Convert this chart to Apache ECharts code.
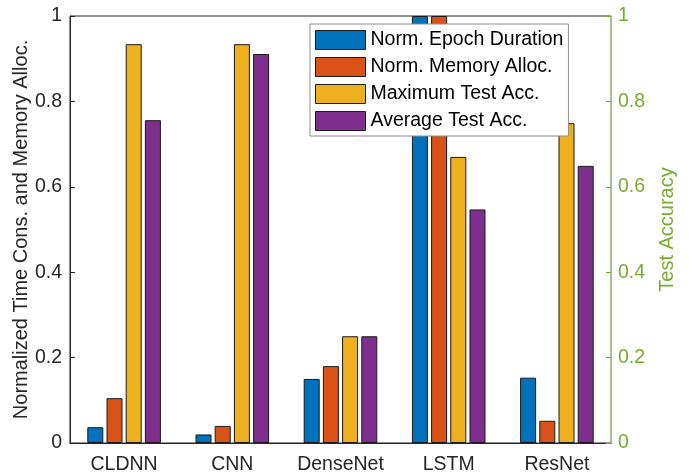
<!DOCTYPE html>
<html>
<head>
<meta charset="utf-8">
<script src="https://cdn.jsdelivr.net/npm/echarts@6/dist/echarts.min.js"></script>
<style>
  html, body { margin: 0; padding: 0; background: #fff; }
  #chart { width: 689px; height: 473px; }
</style>
</head>
<body>
<div id="chart"></div>
<script>
// data
var categories = ['CLDNN', 'CNN', 'DenseNet', 'LSTM', 'ResNet'];
var seriesNames = ['Norm. Epoch Duration', 'Norm. Memory Alloc.', 'Maximum Test Acc.', 'Average Test Acc.'];
var epochDuration = [0.037, 0.020, 0.150, 1.0, 0.153];
var memoryAlloc = [0.105, 0.040, 0.180, 1.0, 0.052];
var maxTestAcc = [0.934, 0.934, 0.250, 0.670, 0.749];
var avgTestAcc = [0.756, 0.911, 0.250, 0.547, 0.649];

var colors = ['#0072BD', '#D95319', '#EDB120', '#7E2F8E'];
var green = '#77AC30';
var font = 'Liberation Sans, Arial, sans-serif';

var chart = echarts.init(document.getElementById('chart'));

function bar(i, data, yIdx) {
  return {
    name: seriesNames[i],
    type: 'bar',
    yAxisIndex: yIdx,
    data: data,
    barWidth: 16,
    barGap: '20%',
    itemStyle: { color: colors[i], borderColor: '#1a1a1a', borderWidth: 1 },
    emphasis: { disabled: true }
  };
}

chart.setOption({
  animation: false,
  textStyle: { fontFamily: font },
  grid: {
    left: 70, right: 78, top: 16, bottom: 30,
    containLabel: false, outerBoundsMode: 'none',
    show: true, borderColor: '#262626', borderWidth: 1, backgroundColor: '#fff'
  },
  legend: {
    orient: 'vertical',
    left: 310, top: 24,
    padding: [6, 5, 5, 5],
    itemWidth: 50, itemHeight: 19, itemGap: 7,
    backgroundColor: '#fff',
    borderColor: '#8c8c8c', borderWidth: 1,
    borderRadius: 0,
    icon: 'rect',
    itemStyle: { borderWidth: 1, borderColor: '#1a1a1a' },
    textStyle: { fontSize: 19.5, lineHeight: 19, color: '#000', fontFamily: font },
    data: seriesNames
  },
  xAxis: [{
    type: 'category',
    data: categories,
    axisLine: { lineStyle: { color: '#262626' } },
    axisTick: { inside: true, alignWithLabel: true, length: 5, lineStyle: { color: '#262626' } },
    axisLabel: { interval: 0, fontSize: 19.5, color: '#262626', margin: 12 }
  }, {
    type: 'category',
    position: 'top',
    data: categories,
    axisLine: { lineStyle: { color: '#262626' } },
    axisTick: { inside: true, alignWithLabel: true, length: 5, lineStyle: { color: '#262626' } },
    axisLabel: { show: false }
  }],
  yAxis: [{
    type: 'value',
    min: 0, max: 1, interval: 0.2,
    name: 'Normalized Time Cons. and Memory Alloc.',
    nameLocation: 'middle', nameGap: 39, nameRotate: 90, nameMoveOverlap: false,
    nameTextStyle: { fontSize: 20, color: '#262626' },
    splitLine: { show: false },
    axisLine: { show: true, lineStyle: { color: '#262626' } },
    axisTick: { show: true, inside: true, length: 5, lineStyle: { color: '#262626' } },
    axisLabel: { fontSize: 19.5, color: '#262626', margin: 8 }
  }, {
    type: 'value',
    position: 'right',
    min: 0, max: 1, interval: 0.2,
    name: 'Test Accuracy',
    nameLocation: 'middle', nameGap: 46, nameRotate: 90, nameMoveOverlap: false,
    nameTextStyle: { fontSize: 20, color: green },
    splitLine: { show: false },
    axisLine: { show: true, lineStyle: { color: '#b3d18c', width: 1.5 } },
    axisTick: { show: true, inside: true, length: 5, lineStyle: { color: green } },
    axisLabel: { fontSize: 19.5, color: green, margin: 7 }
  }],
  series: [
    bar(0, epochDuration, 0),
    bar(1, memoryAlloc, 0),
    bar(2, maxTestAcc, 1),
    bar(3, avgTestAcc, 1)
  ]
});
</script>
</body>
</html>
